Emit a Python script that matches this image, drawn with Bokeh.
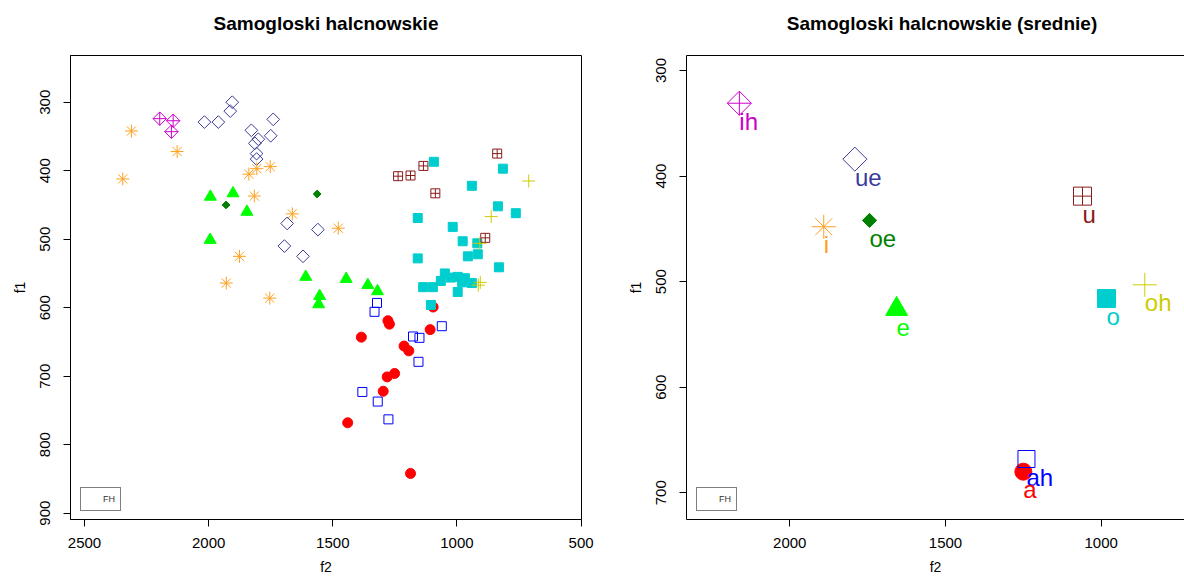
import math
from bokeh.plotting import figure
from bokeh.layouts import row, column
from bokeh.models import (Range1d, FixedTicker, Legend, LegendItem, LinearAxis,
                          ColumnDataSource)
from bokeh.embed import file_html
from bokeh.resources import INLINE
from bokeh.core.properties import value

FONT = "Liberation Sans"

# ---------------- data: individual tokens (left panel) ----------------
a_f2 = [1096, 1278, 1272, 1385, 1108, 1213, 1194, 1251, 1281, 1297, 1440, 1187]
a_f1 = [599, 619, 624, 643, 632, 656, 663, 696, 701, 722, 768, 842]
ah_f2 = [1322, 1332, 1061, 1177, 1151, 1155, 1381, 1319, 1276]
ah_f1 = [593, 606, 627, 642, 644, 679, 723, 737, 763]
e_f2 = [1993, 1902, 1846, 1994, 1609, 1446, 1359, 1320, 1553, 1557]
e_f1 = [438, 433, 460, 501, 555, 558, 567, 576, 583, 595]
oe_f2 = [1563, 1930]
oe_f1 = [434, 450]
ue_f2 = [1905, 1913, 2017, 1961, 1740, 1828, 1750, 1800, 1814, 1807, 1807, 1684, 1560, 1695, 1620]
ue_f1 = [300, 313, 329, 329, 325, 341, 349, 354, 360, 375, 383, 477, 486, 510, 525]
i_f2 = [2311, 2127, 2346, 1838, 1806, 1752, 1816, 1663, 1478, 1876, 1929, 1754]
i_f1 = [342, 372, 412, 405, 397, 394, 437, 463, 484, 525, 564, 586]
ih_f2 = [2197, 2143, 2150]
ih_f1 = [324, 327, 343]
o_f2 = [1093, 815, 940, 835, 763, 1158, 1017, 977, 918, 956, 916, 831,
        1158, 1049, 997, 968, 1065, 1025, 979, 940, 1136, 1097, 997, 1105]
o_f1 = [387, 397, 422, 452, 462, 469, 482, 503, 506, 525, 522, 541,
        528, 550, 555, 557, 561, 556, 563, 564, 570, 570, 577, 596]
u_f2 = [838, 1135, 1237, 1187, 1087, 886]
u_f1 = [375, 393, 408, 407, 433, 498]
oh_f2 = [711, 862, 908, 914, 906]
oh_f1 = [415, 467, 506, 567, 563]

tokens = {
    "a": (a_f2, a_f1), "ah": (ah_f2, ah_f1), "e": (e_f2, e_f1),
    "oe": (oe_f2, oe_f1), "ue": (ue_f2, ue_f1), "i": (i_f2, i_f1),
    "ih": (ih_f2, ih_f1), "o": (o_f2, o_f1), "u": (u_f2, u_f1),
    "oh": (oh_f2, oh_f1),
}

# ---------------- data: means (right panel) ----------------
mean_vowels = ["ih", "ue", "i", "oe", "e", "u", "o", "oh", "ah", "a"]
mean_f2 = [2162, 1791, 1891, 1744, 1657, 1060, 983, 860, 1240, 1250]
mean_f1 = [331, 384, 448, 442, 526, 419, 516, 503, 668, 680]

left_xticks = [2500, 2000, 1500, 1000, 500]
left_yticks = [300, 400, 500, 600, 700, 800, 900]
right_xticks = [2000, 1500, 1000, 500]
right_yticks = [300, 400, 500, 600, 700]

left_title = "Samogloski halcnowskie"
right_title = "Samogloski halcnowskie (srednie)"

# ---------------- styles ----------------
Q = math.pi / 4
STYLE = {
    "a":  dict(color="#FF0000", marker="circle",   filled=True,  angle=0, s=10,  S=17),
    "ah": dict(color="#0000FF", marker="square",   filled=False, angle=0, s=9,   S=17),
    "e":  dict(color="#00FF00", marker="triangle", filled=True,  angle=0, s=12,  S=22),
    "oe": dict(color="#008000", marker="square",   filled=True,  angle=Q, s=5.5, S=10),
    "ue": dict(color="#3B3B9B", marker="square",   filled=False, angle=Q, s=9,   S=17),
    "i":  dict(color="#FFA020", marker="asterisk", filled=False, angle=0, s=13,  S=24),
    "ih": dict(color="#CC00CC", marker="square",   filled=False, angle=Q, s=9.5, S=17,
               plus=True),
    "o":  dict(color="#00CDCD", marker="square",   filled=True,  angle=0, s=9,   S=18),
    "u":  dict(color="#8B1A1A", marker="square_cross", filled=False, angle=0, s=9, S=18),
    "oh": dict(color="#CDCD00", marker="cross",    filled=False, angle=0, s=13,  S=24),
}
ORDER = ["a", "ah", "e", "oe", "ue", "i", "o", "u", "oh", "ih"]

TITLE_H = 52          # height of the title strip above each panel


def draw(p, xs, ys, st, size):
    p.scatter(x=xs, y=ys, marker=st["marker"], size=size, angle=st["angle"],
              line_color=st["color"], line_width=1,
              fill_color=st["color"] if st["filled"] else None)
    if st.get("plus"):
        p.scatter(x=xs, y=ys, marker="cross", size=size * math.sqrt(2),
                  line_color=st["color"], line_width=1)


def style_axes(p, xticks, yticks):
    for ax in (p.xaxis[0], p.yaxis[0]):
        ax.axis_line_color = "black"
        ax.axis_line_width = 1
        ax.major_tick_line_color = "black"
        ax.major_tick_out = 7
        ax.major_tick_in = 0
        ax.minor_tick_line_color = None
        ax.major_label_text_font = FONT
        ax.major_label_text_font_size = "15px"
        ax.major_label_text_color = "black"
        ax.axis_label_text_font = FONT
        ax.axis_label_text_font_size = "14px"
        ax.axis_label_text_font_style = "normal"
        ax.axis_label_text_color = "black"
    p.xaxis[0].ticker = FixedTicker(ticks=xticks)
    p.yaxis[0].ticker = FixedTicker(ticks=yticks)
    p.xaxis[0].major_label_standoff = 11
    p.xaxis[0].axis_label_standoff = 8
    p.yaxis[0].major_label_standoff = 13
    p.yaxis[0].axis_label_standoff = 10
    p.yaxis[0].major_label_orientation = "vertical"
    p.xgrid.visible = False
    p.ygrid.visible = False


def title_strip(width, cx, text):
    t = figure(width=width, height=TITLE_H, output_backend="svg",
               toolbar_location=None, x_axis_location=None, y_axis_location=None,
               x_range=Range1d(0, width), y_range=Range1d(TITLE_H, 0),
               min_border_left=0, min_border_right=0, min_border_top=0,
               min_border_bottom=0)
    t.outline_line_color = None
    t.xgrid.visible = False
    t.ygrid.visible = False
    t.text(x=[cx], y=[22.5], text=[text], text_font=value(FONT),
           text_font_size="19px", text_font_style="bold", text_color="black",
           text_align="center", text_baseline="middle")
    return t


def add_fh(p):
    dummy = p.scatter(x=[], y=[], line_alpha=0, fill_alpha=0)
    leg = Legend(items=[LegendItem(label="FH", renderers=[dummy])],
                 location=(10, 8), padding=5, margin=0, spacing=0,
                 glyph_width=14, glyph_height=12, label_height=12,
                 label_width=10, label_standoff=3, label_text_font=FONT,
                 label_text_font_size="9px", label_text_color="#333333",
                 border_line_color="black", border_line_width=1,
                 background_fill_color="white", background_fill_alpha=1)
    p.add_layout(leg)


W1, W2 = 622, 562

# ---------------- left figure ----------------
p1 = figure(width=W1, height=579 - TITLE_H, output_backend="svg",
            toolbar_location=None,
            x_range=Range1d(2556.4, 498.4), y_range=Range1d(909.2, 231.8),
            x_axis_label="f2", y_axis_label="f1",
            min_border_left=70, min_border_right=41, min_border_top=3,
            min_border_bottom=60)
p1.outline_line_color = "black"
p1.outline_line_width = 1
style_axes(p1, left_xticks, left_yticks)

for v in ORDER:
    xs, ys = tokens[v]
    draw(p1, xs, ys, STYLE[v], STYLE[v]["s"])
add_fh(p1)

# ---------------- right figure ----------------
p2 = figure(width=W2, height=579 - TITLE_H, output_backend="svg",
            toolbar_location=None,
            x_range=Range1d(2331.7, 732.5), y_range=Range1d(725.3, 285.8),
            x_axis_label="f2", y_axis_label="f1",
            min_border_left=64, min_border_right=0, min_border_top=3,
            min_border_bottom=60)
p2.outline_line_color = None
style_axes(p2, right_xticks, right_yticks)
top = LinearAxis(ticker=FixedTicker(ticks=[]), major_label_text_font_size="0px",
                 major_tick_out=0, major_tick_in=0, minor_tick_out=0,
                 minor_tick_in=0, major_label_standoff=0,
                 axis_line_color="black", axis_line_width=1)
p2.add_layout(top, "above")

mean_colors = [STYLE[v]["color"] for v in mean_vowels]
for v in ORDER:
    k = mean_vowels.index(v)
    draw(p2, [mean_f2[k]], [mean_f1[k]], STYLE[v], STYLE[v]["S"])

src = ColumnDataSource(dict(x=mean_f2, y=mean_f1, t=mean_vowels, c=mean_colors))
p2.text(x="x", y="y", text="t", text_color="c", source=src,
        text_font=value(FONT), text_font_size="24px", text_align="left",
        text_baseline="alphabetic", y_offset=18)
add_fh(p2)

t1 = title_strip(W1, 70 + 255.5, left_title)
t2 = title_strip(W2, 64 + 255.5, right_title)

layout = column(row(t1, t2), row(p1, p2))
open("out.html", "w").write(file_html(layout, INLINE))
